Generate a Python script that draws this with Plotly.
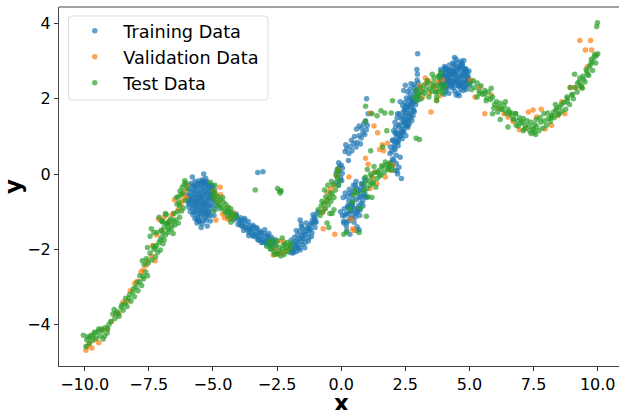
import plotly.graph_objects as go

train_x = [
 -5.80,-5.36,-5.70,-5.62,-5.55,-5.48,-5.40,-5.32,-5.25,-5.18,-5.75,-5.66,-5.58,-5.50,-5.43,-5.35,-5.28,-5.20,-5.12,-5.05,
 -5.85,-5.78,-5.70,-5.62,-5.53,-5.46,-5.38,-5.30,-5.22,-5.14,-5.07,-5.00,-5.90,-5.82,-5.74,-5.66,-5.57,-5.49,-5.41,-5.33,
 -5.26,-5.17,-5.09,-5.02,-5.88,-5.80,-5.72,-5.63,-5.55,-5.47,-5.39,-5.31,-5.23,-5.15,-5.06,-5.84,-5.76,-5.68,-5.60,-5.52,
 -5.44,-5.36,-5.27,-5.19,-5.11,-5.80,-5.72,-5.64,-5.56,-5.48,-5.40,-5.32,-5.24,-5.16,-5.75,-5.67,-5.58,-5.50,-5.42,-5.34,
 -5.26,-5.60,-5.45,-5.30,-5.18,-5.70,-5.52,-5.38,-5.25,-5.10,-5.92,-5.62,-5.42,-5.15,-5.28,-5.05,-5.03,-5.46,-5.22,-5.56,
 -4.40,-4.30,-4.22,-4.15,-4.08,-4.00,-3.92,-3.85,-3.78,-3.70,-3.62,-3.55,-3.50,-3.42,-3.35,-3.28,-3.20,-3.15,-3.08,-3.00,-2.93,-2.86,-2.80,-2.72,-2.65,-2.58,
 -3.95,-3.86,-3.75,-3.66,-3.58,-3.48,-3.38,-3.30,-3.22,-3.12,-3.04,-2.96,-2.88,-2.76,-3.80,-3.60,-3.44,-3.25,-3.10,-2.90,-2.70,
 -2.00,-1.92,-1.85,-1.78,-1.72,-1.65,-1.58,-1.52,-1.45,-1.40,-1.33,-1.26,-1.20,-1.14,-1.08,-1.02,-1.96,-1.88,-1.80,-1.70,-1.62,-1.55,-1.48,-1.38,-1.30,-1.22,-1.12,-1.05,
 -1.90,-1.75,-1.60,-1.42,-1.28,-1.16,-1.00,-1.70,-1.50,-1.75,-1.55,-1.60,-3.25,-3.05,-0.95,-0.88,
 -0.18,-0.12,-0.06,0.00,0.05,-0.15,-0.08,-0.02,0.04,-0.20,-0.10,0.02,-0.10,-0.04,
 0.15,0.22,0.30,0.36,0.42,0.50,0.58,0.28,0.40,0.52,0.62,0.70,0.78,0.85,0.92,0.60,0.70,0.80,0.88,0.98,1.02,0.95,0.75,0.18,0.99,1.05,
 -0.02,0.05,0.12,0.20,0.28,0.36,0.44,0.52,0.60,0.68,0.76,0.84,0.92,1.00,0.08,0.16,0.24,0.32,0.40,0.48,0.56,0.64,0.72,0.80,0.88,0.96,
 0.10,0.20,0.30,0.42,0.54,0.66,0.78,0.90,0.35,0.50,0.62,0.74,0.10,0.22,0.34,0.15,0.28,0.40,0.55,0.72,0.85,0.60,0.70,0.45,0.58,0.30,
 1.85,1.92,2.00,2.05,2.10,2.15,2.20,2.25,1.90,1.98,2.06,2.14,2.22,2.30,2.02,2.12,2.35,2.00,2.18,
 1.92,2.00,2.08,2.15,2.22,2.30,2.38,2.45,2.52,2.60,2.05,2.12,2.20,2.28,2.35,2.42,2.50,2.58,2.65,2.72,2.10,2.18,2.26,2.34,2.42,2.50,2.58,2.66,2.74,2.82,
 2.40,2.48,2.56,2.64,2.72,2.80,2.88,2.95,3.02,2.46,2.54,2.62,2.70,2.78,2.86,2.94,2.52,2.60,2.68,2.76,2.84,2.92,3.00,3.05,2.44,2.30,2.20,2.10,2.85,2.98,2.95,2.97,2.96,3.00,2.72,2.50,2.80,
 3.85,3.92,4.00,4.08,4.15,4.22,4.30,4.38,4.45,4.52,4.60,4.68,4.75,4.82,4.90,4.95,3.90,3.98,4.06,4.14,4.22,4.30,4.38,4.46,4.54,4.62,4.70,4.78,4.86,4.94,
 3.95,4.03,4.11,4.19,4.27,4.35,4.43,4.51,4.59,4.67,4.75,4.83,4.91,4.00,4.08,4.16,4.24,4.32,4.40,4.48,4.56,4.64,4.72,4.80,4.88,4.96,3.88,4.02,4.18,4.34,4.50,4.66,4.82,4.05,4.25,4.42,4.58,4.72,4.12,4.30,4.48,4.64,4.36,4.55,4.20,4.78,3.98,4.60,4.40,4.90,4.70,4.86,4.08,
 -6.00,-5.97,-5.95,-5.93,-5.98,-5.90,-5.88,-5.95,-4.98,-4.95,-4.93,-4.90,-4.97,-4.92,-5.00,-4.96,-5.85,-5.72,-5.55,-5.35,-5.20,-5.05,-5.78,-5.62,-5.42,-5.25,-5.10,-5.65,-5.30,-5.50,
 -4.35,-4.18,-4.02,-3.88,-3.72,-3.56,-3.40,-3.22,-3.06,-2.90,-2.74,-2.60,-4.10,-3.94,-3.76,-3.60,-3.44,-3.30,-3.14,-2.98,-2.82,-2.66,-2.56,
 -1.95,-1.82,-1.68,-1.55,-1.42,-1.28,-1.15,-1.02,-1.90,-1.76,-1.62,-1.50,-1.36,-1.24,-1.10,-0.98,
 3.88,3.95,4.02,4.10,4.18,4.26,4.34,4.42,4.50,4.58,4.66,4.74,4.82,4.90,3.92,4.00,4.08,4.16,4.24,4.32,4.40,4.48,4.56,4.64,4.72,4.80,4.88,4.96,3.96,4.04,4.12,4.20,4.28,4.36,4.44,4.52,4.60,4.68,4.76,4.84,4.92,5.02,5.05,4.98,3.86,3.84,
 2.15,2.25,2.35,2.45,2.55,2.65,2.75,2.85,2.20,2.30,2.40,2.50,2.60,2.70,2.80,2.90,2.10,2.22,2.32,2.42,2.52,2.62,2.72,2.82,2.38,2.48,2.58,2.68,
 0.20,0.30,0.40,0.50,0.60,0.70,0.80,0.90,0.25,0.35,0.45,0.55,0.65,0.75,0.85,0.95]
train_y = [
 -0.08,0.00,-0.20,-0.25,-0.18,-0.23,-0.15,-0.22,-0.20,-0.28,-0.32,-0.36,-0.30,-0.34,-0.28,-0.36,-0.32,-0.38,-0.34,-0.40,
 -0.46,-0.42,-0.48,-0.44,-0.50,-0.42,-0.48,-0.44,-0.50,-0.46,-0.52,-0.48,-0.56,-0.60,-0.55,-0.60,-0.54,-0.62,-0.56,-0.60,
 -0.54,-0.62,-0.58,-0.64,-0.70,-0.66,-0.72,-0.66,-0.72,-0.68,-0.74,-0.68,-0.72,-0.66,-0.74,-0.78,-0.82,-0.78,-0.84,-0.78,
 -0.84,-0.80,-0.86,-0.80,-0.84,-0.92,-0.88,-0.94,-0.90,-0.96,-0.90,-0.96,-0.92,-0.98,-1.02,-1.00,-1.06,-1.00,-1.06,-1.02,
 -1.08,-1.14,-1.12,-1.16,-1.10,-1.18,-1.26,-1.24,-1.22,-1.10,-0.70,-1.30,-1.32,-1.00,-0.12,-0.86,-0.60,-1.42,-1.38,-1.22,
 -1.00,-1.08,-1.05,-1.15,-1.10,-1.20,-1.16,-1.28,-1.22,-1.32,-1.26,-1.38,-1.45,-1.40,-1.52,-1.46,-1.58,-1.52,-1.62,-1.58,-1.68,-1.64,-1.72,-1.68,-1.78,-1.74,
 -1.32,-1.38,-1.42,-1.48,-1.44,-1.56,-1.60,-1.64,-1.70,-1.72,-1.76,-1.80,-1.82,-1.86,-1.50,-1.56,-1.64,-1.74,-1.82,-1.74,-1.92,
 -2.08,-2.00,-2.08,-1.96,-1.88,-1.96,-1.80,-1.88,-1.72,-1.82,-1.60,-1.70,-1.46,-1.56,-1.30,-1.42,-1.94,-1.84,-1.80,-1.76,-1.72,-1.64,-1.56,-1.50,-1.42,-1.36,-1.22,-1.14,
 -2.10,-2.06,-2.02,-1.96,-1.78,-1.66,-1.26,-1.62,-1.44,-1.50,-1.32,-1.22,0.04,0.06,-1.05,-1.00,
 0.05,0.14,0.20,0.24,0.16,-0.05,0.08,-0.10,0.02,-0.22,-0.30,-0.18,0.30,-0.16,
 0.60,0.68,0.55,0.74,0.62,0.82,0.72,0.36,0.90,1.00,0.84,1.02,0.96,1.10,1.05,1.20,1.28,1.22,1.34,1.18,1.30,1.42,0.80,0.78,2.00,1.60,
 -1.00,-1.10,-0.92,-1.05,-0.90,-0.98,-0.80,-0.92,-0.68,-0.84,-0.60,-0.72,-0.50,-0.62,-0.62,-0.50,-0.60,-0.40,-0.55,-0.30,-0.48,-0.38,-0.42,-0.28,-0.32,-0.18,
 -1.30,-1.38,-1.25,-1.15,-1.05,-0.92,-0.78,-0.58,-1.18,-1.28,-1.40,-0.95,-1.25,-1.50,-1.60,-1.10,-1.05,-1.00,-1.15,-1.10,-0.85,-1.50,-1.48,-0.66,-0.20,-0.85,
 0.15,0.30,0.22,0.36,0.10,0.28,0.00,0.18,0.55,0.60,0.70,0.50,0.75,0.45,0.90,0.85,-0.12,0.40,0.08,
 0.72,0.90,0.78,1.00,0.85,1.05,0.94,1.12,1.02,1.24,1.15,1.25,1.12,1.32,1.20,1.40,1.30,1.46,1.34,1.50,1.38,1.50,1.60,1.48,1.64,1.56,1.72,1.62,1.78,1.68,
 1.82,1.90,1.78,1.96,1.86,2.04,1.92,2.10,1.98,1.70,2.02,1.78,2.12,1.90,2.18,2.06,1.62,2.18,2.26,1.98,2.30,2.22,2.28,2.15,2.22,1.92,1.60,1.10,2.38,3.20,2.78,2.65,2.50,2.42,2.40,2.36,1.55,
 2.50,2.72,2.44,2.62,2.36,2.78,2.50,2.30,2.70,2.42,2.82,2.36,2.60,2.30,2.58,2.46,2.60,2.38,2.82,2.50,2.90,2.30,2.74,2.45,2.96,2.36,2.66,2.30,2.74,2.62,
 2.30,2.86,2.28,2.70,2.40,2.95,2.20,2.62,2.44,3.00,2.22,2.78,2.40,2.66,2.20,2.54,2.76,2.36,2.62,3.05,2.15,2.56,2.90,2.80,2.25,2.50,2.78,2.12,2.60,2.48,2.84,2.26,2.70,2.56,2.74,3.10,2.35,2.90,2.50,2.66,2.10,2.88,2.68,2.50,2.15,3.02,2.42,2.08,2.92,2.60,2.95,2.80,2.30,
 -0.55,-0.72,-0.40,-0.88,-0.62,-0.30,-1.00,-0.80,-0.50,-0.70,-0.42,-0.82,-0.60,-0.95,-0.32,-1.10,-0.25,-0.32,-1.25,-0.24,-0.26,-0.30,-1.08,-1.22,-0.20,-1.05,-1.25,-0.72,-0.78,-0.62,
 -1.18,-1.22,-1.34,-1.38,-1.42,-1.50,-1.66,-1.76,-1.82,-1.88,-1.92,-1.98,-1.06,-1.24,-1.18,-1.64,-1.36,-1.42,-1.56,-1.48,-1.58,-1.80,-1.86,
 -1.76,-1.68,-1.98,-1.40,-1.60,-1.46,-1.30,-1.18,-2.00,-1.90,-1.52,-1.70,-1.30,-1.50,-1.08,-1.28,
 2.40,2.62,2.34,2.78,2.44,2.66,2.38,2.72,2.54,2.82,2.40,2.68,2.48,2.72,2.56,2.32,2.80,2.52,2.70,2.46,2.86,2.58,2.34,2.78,2.44,2.66,2.36,2.54,2.48,2.70,2.56,2.38,2.62,2.76,2.46,2.70,2.40,2.58,2.44,2.76,2.52,2.36,2.46,2.74,2.42,2.62,
 1.08,1.28,1.10,1.36,1.28,1.54,1.42,1.66,0.85,1.00,1.12,1.40,1.30,1.60,1.72,1.84,0.65,0.92,1.02,1.20,1.46,1.40,1.86,1.92,1.52,1.76,1.84,2.02,
 -1.28,-0.72,-0.78,-0.42,-1.02,-0.62,-0.25,-0.12,-0.85,-0.50,-0.88,-0.30,-0.98,-0.50,-0.40,-0.60]

val_x = [-9.95,-9.90,-9.82,-9.72,-9.60,-9.45,-9.30,-9.12,-8.95,-8.80,-8.66,-8.50,-8.35,-8.22,-8.05,-7.95,-7.80,-7.72,-7.60,-7.55,-7.40,-7.35,
 -7.25,-7.20,-7.12,-7.00,-6.90,-6.75,-6.60,-6.55,-6.50,-6.35,-6.25,-6.18,-6.15,-6.10,-6.05,-6.00,
 -4.95,-4.85,-4.78,-4.70,-4.62,-4.55,-4.45,-4.40,-4.30,-4.20,-4.72,-4.88,
 -2.65,-2.58,-2.50,-2.42,-2.30,-2.18,-2.08,-2.45,-2.25,
 -0.72,-0.66,-0.60,-0.50,-0.42,-0.30,-0.18,-0.12,0.30,0.45,0.50,0.38,-0.70,-0.54,-0.25,
 0.95,1.05,1.12,1.22,1.30,1.42,1.50,1.60,1.72,1.80,1.86,1.92,2.02,1.15,1.28,1.65,1.38,
 3.05,3.18,3.28,3.40,3.50,3.58,3.65,3.72,3.85,3.95,3.30,3.12,3.45,3.75,
 5.05,5.22,5.40,5.60,5.85,6.12,6.35,6.50,6.70,6.95,7.20,7.30,7.48,7.62,7.80,7.95,8.20,8.45,8.60,8.72,8.95,9.15,9.30,9.38,9.52,9.60,9.72,9.76]
val_y = [-4.68,-4.58,-4.50,-4.62,-4.40,-4.48,-4.15,-4.12,-3.92,-3.72,-3.70,-3.40,-3.38,-3.10,-2.90,-2.85,-2.60,-2.55,-2.42,-2.30,-2.18,-1.90,
 -2.30,-1.62,-1.20,-1.50,-1.15,-1.30,-1.10,-1.05,-0.68,-0.95,-0.80,-0.70,-0.55,-0.45,-0.62,-0.30,
 -0.45,-0.60,-0.72,-0.55,-1.06,-1.16,-0.90,-1.20,-1.14,-1.02,-0.35,-1.22,
 -2.15,-1.98,-2.12,-1.78,-2.10,-2.05,-1.98,-2.12,-1.80,
 -1.02,-0.92,-0.75,-0.65,-0.40,-0.30,-0.05,0.12,-0.08,-1.45,-1.50,-1.20,-1.45,-0.48,-1.60,
 0.42,0.26,-0.38,-0.10,0.05,1.10,0.65,0.78,-0.08,0.82,0.25,0.10,0.24,1.62,1.28,0.62,-0.25,
 2.35,2.05,2.55,2.48,1.65,2.35,2.30,1.96,2.08,2.50,2.40,2.25,2.15,2.45,
 2.50,2.05,2.30,1.60,2.10,1.75,1.60,1.52,1.40,1.18,1.22,1.65,1.70,1.52,1.72,1.20,1.30,1.55,1.92,1.60,2.30,2.30,3.55,2.30,3.30,2.85,3.55,3.30]

test_x = [-10.05,-9.95,-9.88,-9.82,-9.75,-9.70,-9.62,-9.55,-9.48,-9.40,-9.35,-9.28,-9.20,-9.12,-9.05,-9.92,-9.80,-9.68,-9.58,-9.45,-9.32,-9.22,-9.10,
 -8.98,-8.90,-8.82,-8.74,-8.66,-8.58,-8.50,-8.42,-8.35,-8.28,-8.20,-8.12,-8.06,-8.00,-7.92,-7.85,-7.78,-7.72,-8.85,-8.70,-8.55,-8.40,-8.25,-8.10,-7.95,-7.85,-7.70,-7.62,-7.55,
 -7.75,-7.68,-7.60,-7.52,-7.45,-7.38,-7.30,-7.24,-7.20,-7.15,-7.10,-7.05,-7.00,-6.95,-6.90,-6.85,-6.78,-6.72,-6.65,-6.60,-6.52,-6.45,-6.38,-6.30,-6.22,-7.32,-7.18,-6.98,-6.82,-6.55,-7.02,-6.95,-6.75,-6.40,-6.15,-6.08,-6.25,-6.28,-6.20,-6.12,-6.05,-6.00,-6.35,-6.32,-6.18,-6.10,
 -5.00,-4.95,-4.90,-4.85,-4.80,-4.75,-4.70,-4.65,-4.60,-4.55,-4.50,-4.45,-4.40,-4.35,-4.30,-4.92,-4.82,-4.72,-4.62,-4.52,-4.42,-4.32,-4.25,-4.18,-4.10,-5.02,-4.30,-5.10,-4.98,
 -2.90,-2.82,-2.76,-2.68,-2.62,-2.55,-2.48,-2.42,-2.35,-2.28,-2.22,-2.15,-2.08,-2.02,-1.96,-2.75,-2.60,-2.40,-2.25,-2.10,-1.98,-2.70,-2.20,-2.50,-2.30,-2.48,-2.40,-2.38,-2.34,-3.35,
 -0.90,-0.82,-0.78,-0.72,-0.68,-0.62,-0.56,-0.50,-0.45,-0.40,-0.35,-0.28,-0.22,-0.12,-0.08,-0.75,-0.60,-0.42,-0.30,-0.15,-0.65,-0.52,-0.38,-0.55,-0.48,-0.44,-0.28,-0.20,-0.10,0.10,0.20,-0.35,-0.15,
 0.35,0.45,0.50,0.55,0.62,0.70,0.75,0.90,0.95,1.00,1.08,1.12,1.18,1.25,1.32,1.40,1.48,1.55,1.62,1.68,1.75,1.82,1.90,1.98,1.02,1.15,1.28,1.42,1.58,1.72,1.85,1.35,1.22,1.05,1.50,1.95,0.90,0.98,1.20,
 0.95,1.20,1.40,1.55,1.70,1.95,2.00,1.78,1.62,0.95,1.15,2.92,3.05,
 2.85,2.92,3.00,3.08,3.15,3.22,3.30,3.38,3.45,3.52,3.60,3.68,3.75,3.82,3.90,3.98,4.05,2.95,3.12,3.25,3.42,3.58,3.72,3.85,3.95,3.62,3.78,3.88,3.55,3.70,3.85,3.72,3.35,3.00,
 5.00,5.08,5.15,5.22,5.30,5.38,5.45,5.52,5.60,5.68,5.75,5.82,5.90,5.98,6.05,6.12,6.20,6.28,6.35,6.42,6.50,6.58,6.65,6.72,6.80,6.88,6.95,7.02,7.10,7.18,7.25,7.32,7.40,7.48,7.55,7.62,7.70,7.78,7.85,7.92,8.00,8.08,8.15,8.22,8.30,8.38,8.45,8.52,8.60,8.68,8.75,8.82,8.90,8.98,9.05,9.12,9.20,9.28,9.35,9.42,9.50,9.58,9.65,9.72,9.80,9.86,9.92,9.95,10.00,
 5.40,5.65,5.95,6.25,6.55,6.82,7.05,7.15,7.35,7.58,7.52,7.75,8.05,8.28,8.40,8.58,8.80,9.02,9.22,9.40,9.68,9.78,9.88,5.85,6.10,6.40,6.70,6.90,7.60,7.50,8.18,8.35,8.92,9.30,9.45,9.55,9.96,9.99,
 -7.45,-7.30,-7.25,-7.10,-6.95,-6.85,-6.75,-6.62,-6.48,-6.42,-6.30,-7.55,-7.40,-7.00,-6.70,-6.90,-6.55,-7.05,-6.80,-6.35,
 5.30,5.60,5.90,6.20,6.50,6.80,7.10,7.40,7.90,8.20,8.50,8.80,9.10,9.35,9.60,9.75]
test_y = [-4.28,-4.58,-4.32,-4.50,-4.28,-4.42,-4.20,-4.36,-4.18,-4.30,-4.12,-4.38,-4.08,-4.22,-4.00,-4.40,-4.35,-4.30,-4.22,-4.12,-4.16,-4.30,-4.12,
 -3.92,-3.72,-3.84,-3.66,-3.78,-3.54,-3.62,-3.44,-3.52,-3.30,-3.38,-3.14,-3.26,-3.00,-3.10,-2.86,-2.96,-2.72,-3.60,-3.72,-3.48,-3.30,-3.20,-3.05,-2.88,-2.70,-2.78,-2.60,-2.70,
 -2.30,-2.40,-2.25,-2.36,-2.10,-2.28,-2.00,-2.20,-1.90,-2.08,-1.82,-2.02,-1.68,-1.55,-1.42,-1.62,-1.30,-1.48,-1.20,-1.35,-1.05,-1.22,-1.00,-1.15,-0.98,-1.92,-1.55,-1.25,-1.08,-1.58,-1.50,-1.28,-1.40,-0.80,-0.90,-0.70,-0.55,-0.45,-0.35,-0.28,-0.24,-0.38,-0.60,-0.75,-0.50,-0.18,
 -0.45,-0.65,-0.52,-0.75,-0.60,-0.82,-0.68,-0.88,-0.75,-0.95,-0.80,-1.00,-0.88,-1.05,-0.92,-0.30,-0.85,-0.92,-0.62,-1.02,-1.12,-1.00,-1.18,-1.08,-1.14,-0.58,-1.28,-0.22,-0.98,
 -1.92,-1.80,-1.98,-1.86,-2.06,-1.90,-2.12,-1.95,-2.18,-2.00,-2.14,-1.96,-2.06,-1.90,-1.85,-2.00,-2.14,-2.05,-1.90,-1.82,-1.98,-1.75,-1.85,-1.78,-1.70,-0.38,-0.45,-0.50,-0.44,-0.42,
 -0.95,-1.10,-0.85,-1.00,-0.78,-0.92,-0.70,-0.82,-0.62,-0.72,-0.52,-0.62,-0.42,-0.30,-0.18,-0.72,-0.60,-0.50,-0.28,-0.10,-0.42,-0.30,-0.20,-1.30,-1.42,-1.05,-0.95,-0.02,0.06,-1.60,-1.55,-1.05,0.12,
 -0.92,-0.75,-0.55,-0.42,-0.50,-1.55,-0.90,-0.25,-0.08,-0.38,-0.18,-0.30,-0.05,-0.22,0.05,-0.12,0.10,-0.02,0.18,0.05,0.25,0.12,0.28,0.10,0.12,0.00,0.20,0.05,0.22,0.32,0.16,-0.35,-0.25,-0.60,-0.05,0.22,-0.45,-1.12,-0.62,
 1.40,1.60,1.55,1.68,1.62,1.62,1.95,1.15,0.72,1.80,0.62,0.95,0.92,
 2.05,2.22,2.10,2.30,2.18,2.36,2.25,2.42,2.28,2.20,2.32,2.18,2.36,2.20,2.40,2.25,2.35,1.95,2.00,2.15,2.05,2.42,1.95,2.28,2.15,2.55,2.60,2.70,2.65,2.18,2.55,2.05,2.48,2.10,
 2.40,2.25,2.48,2.30,2.42,2.20,2.35,2.12,2.22,2.02,2.18,1.98,2.05,1.85,1.92,1.78,1.88,1.72,1.82,1.62,1.72,1.58,1.62,1.45,1.60,1.42,1.50,1.35,1.48,1.30,1.42,1.28,1.38,1.22,1.32,1.26,1.15,1.38,1.22,1.42,1.30,1.48,1.40,1.56,1.50,1.70,1.58,1.78,1.66,1.90,1.72,2.00,1.85,2.10,2.00,2.30,2.18,2.45,2.32,2.60,2.45,2.72,2.62,2.92,2.75,3.10,2.95,3.15,3.20,
 2.15,1.95,1.75,1.72,1.65,1.30,1.40,1.20,1.15,1.05,1.10,1.50,1.62,1.65,1.75,1.85,1.92,2.12,2.42,2.28,2.85,2.98,3.18,2.28,1.65,1.92,1.48,1.28,1.45,1.18,1.50,1.85,2.30,2.55,2.52,2.78,3.92,4.02,
 -1.65,-1.55,-1.95,-1.15,-1.85,-1.05,-1.55,-1.45,-1.35,-0.62,-0.85,-1.95,-1.45,-1.25,-1.25,-1.75,-1.25,-1.75,-1.32,-1.30,
 2.05,2.15,1.60,1.45,1.25,1.60,1.15,1.08,1.60,1.55,1.60,2.05,2.65,2.35,2.65,3.05]

series = [("Training Data", train_x, train_y, "#1f77b4"),
          ("Validation Data", val_x, val_y, "#ff7f0e"),
          ("Test Data", test_x, test_y, "#2ca02c")]

fig = go.Figure()
for name, xs, ys, col in series:
    fig.add_trace(go.Scatter(x=xs, y=ys, mode="markers", name=name, legendgroup=name,
                             marker=dict(color=col, size=5.5, opacity=0.7, line=dict(width=0))))

axis = dict(showgrid=False, zeroline=False, showline=True, linecolor="#444444", linewidth=1,
            ticks="outside", ticklen=4, tickcolor="#333333", tickwidth=1, automargin=False,
            tickfont=dict(family="DejaVu Sans", size=16, color="black"))
fig.update_layout(
    width=619, height=410, paper_bgcolor="white", plot_bgcolor="white",
    margin=dict(l=59, r=0, t=7, b=44),
    font=dict(family="DejaVu Sans", color="black"),
    xaxis=dict(axis, range=[-11.0, 10.83], tickvals=[-10, -7.5, -5, -2.5, 0, 2.5, 5, 7.5, 10],
               ticktext=["−10.0", "−7.5", "−5.0", "−2.5", "0.0", "2.5", "5.0", "7.5", "10.0"]),
    yaxis=dict(axis, range=[-5.1, 4.44], tickvals=[-4, -2, 0, 2, 4], ticktext=["−4", "−2", "0", "2", "4"],
               title=dict(text="<b>y</b>", font=dict(family="DejaVu Sans", size=23), standoff=2)),
    legend=dict(x=0.013, y=0.984, xanchor="left", yanchor="top", bgcolor="rgba(0,0,0,0)",
                borderwidth=0, font=dict(family="DejaVu Sans", size=17.7),
                itemwidth=47, tracegroupgap=5, traceorder="normal"),
    annotations=[dict(text="<b>x</b>", xref="x", yref="paper", x=0, y=-0.103, xanchor="center", yanchor="middle",
                      showarrow=False, font=dict(family="DejaVu Sans", size=23, color="black"))],
    shapes=[
        dict(type="line", xref="paper", yref="paper", x0=0, x1=1, y0=1, y1=1, line=dict(color="#444444", width=1)),
        dict(type="path", xref="paper", yref="paper", layer="above",
             path="M .0224 .975 L .3676 .975 Q .373 .975 .373 .9666 L .373 .7494 Q .373 .741 .3676 .741 "
                  "L .0224 .741 Q .017 .741 .017 .7494 L .017 .9666 Q .017 .975 .0224 .975 Z",
             line=dict(color="#dcdcdc", width=1), fillcolor="rgba(255,255,255,0.8)"),
    ],
)
fig.write_html("out.html", config={"displayModeBar": False},
               post_script="document.body.style.margin='0';document.documentElement.style.overflow='hidden';")
